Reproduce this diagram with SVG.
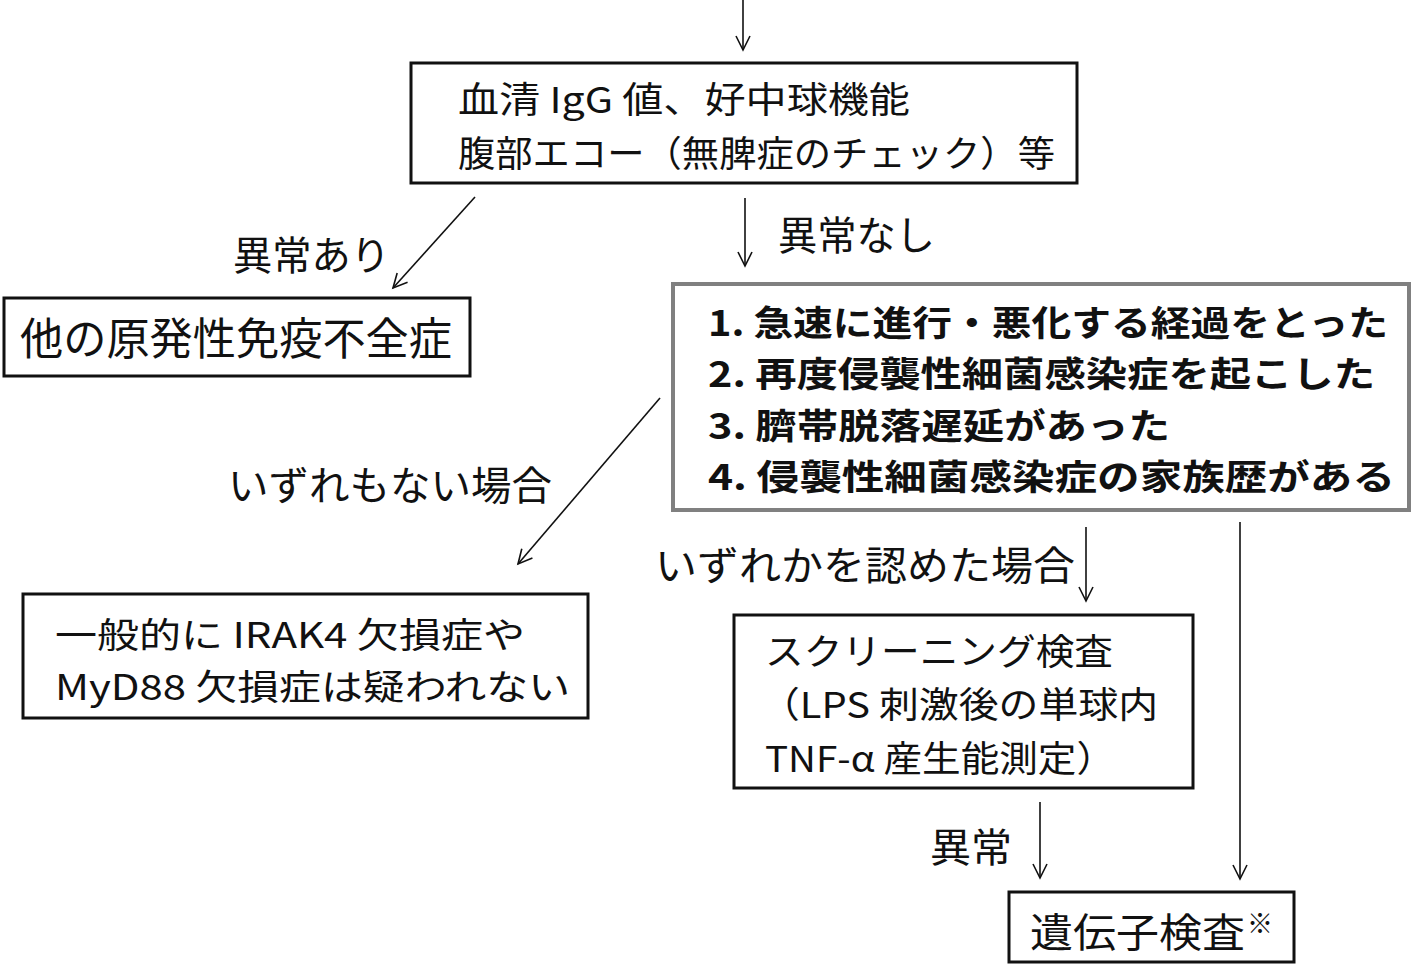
<svg xmlns="http://www.w3.org/2000/svg" width="1420" height="966" viewBox="0 0 1420 966">
<style>
.t{font-family:"Noto Sans CJK JP","Liberation Sans",sans-serif;font-size:40px;fill:#111}
.s{font-size:36px}
.s2{font-size:35px}
.b{font-weight:bold}
.box{fill:#fff;stroke:#111;stroke-width:3}
.gbox{fill:#fff;stroke:#808080;stroke-width:4}
.c{stroke:#111;stroke-width:1.6;fill:none;marker-end:url(#ah)}
</style>
<defs>
<marker id="ah" markerUnits="userSpaceOnUse" markerWidth="20" markerHeight="20" refX="15" refY="8" orient="auto">
<path d="M1,1 L15,8 L1,15" fill="none" stroke="#111" stroke-width="1.6"/>
</marker>
</defs>
<rect width="1420" height="966" fill="#fff"/>
<g id="connectors">
<line class="c" x1="743" y1="0" x2="743" y2="50"/>
<line class="c" x1="475" y1="197" x2="393" y2="288"/>
<line class="c" x1="745" y1="198" x2="745" y2="266"/>
<line class="c" x1="660" y1="398" x2="518" y2="564"/>
<line class="c" x1="1086" y1="527" x2="1086" y2="601"/>
<line class="c" x1="1240" y1="522" x2="1240" y2="879"/>
<line class="c" x1="1040" y1="802" x2="1040" y2="878"/>
<text class="t" x="233" y="270" textLength="157" lengthAdjust="spacingAndGlyphs">異常あり</text>
<text class="t" x="778" y="250" textLength="157" lengthAdjust="spacingAndGlyphs">異常なし</text>
<text class="t" x="228" y="500" textLength="324" lengthAdjust="spacingAndGlyphs">いずれもない場合</text>
<text class="t" x="655" y="580" textLength="420" lengthAdjust="spacingAndGlyphs">いずれかを認めた場合</text>
<text class="t" x="930" y="862" textLength="82" lengthAdjust="spacingAndGlyphs">異常</text>
</g>
<g id="node-tests">
<rect class="box" x="411" y="63" width="666" height="120"/>
<text class="t s" x="458" y="113" textLength="452" lengthAdjust="spacingAndGlyphs">血清 IgG 値、好中球機能</text>
<text class="t s" x="458" y="167" textLength="597" lengthAdjust="spacingAndGlyphs">腹部エコー（無脾症のチェック）等</text>
</g>
<g id="node-other-pid">
<rect class="box" x="4" y="298" width="466" height="78"/>
<text class="t" x="20" y="355" style="font-size:44px" textLength="432" lengthAdjust="spacingAndGlyphs">他の原発性免疫不全症</text>
</g>
<g id="node-criteria">
<rect class="gbox" x="673" y="284" width="736" height="226"/>
<text class="t b s2" x="708" y="336" textLength="680" lengthAdjust="spacingAndGlyphs">1. 急速に進行・悪化する経過をとった</text>
<text class="t b s2" x="708" y="387" textLength="667" lengthAdjust="spacingAndGlyphs">2. 再度侵襲性細菌感染症を起こした</text>
<text class="t b s2" x="708" y="439" textLength="462" lengthAdjust="spacingAndGlyphs">3. 臍帯脱落遅延があった</text>
<text class="t b s2" x="708" y="490" textLength="687" lengthAdjust="spacingAndGlyphs">4. 侵襲性細菌感染症の家族歴がある</text>
</g>
<g id="node-not-suspected">
<rect class="box" x="23" y="594" width="565" height="124"/>
<text class="t s2" x="55" y="648" textLength="470" lengthAdjust="spacingAndGlyphs">一般的に IRAK4 欠損症や</text>
<text class="t s2" x="55" y="700" textLength="515" lengthAdjust="spacingAndGlyphs">MyD88 欠損症は疑われない</text>
</g>
<g id="node-screening">
<rect class="box" x="734" y="615" width="459" height="173"/>
<text class="t s" x="765" y="665" textLength="348" lengthAdjust="spacingAndGlyphs">スクリーニング検査</text>
<text class="t s" x="760" y="718" textLength="398" lengthAdjust="spacingAndGlyphs">（LPS 刺激後の単球内</text>
<text class="t s" x="765" y="772" textLength="350" lengthAdjust="spacingAndGlyphs">TNF-α 産生能測定）</text>
</g>
<g id="node-genetic">
<rect class="box" x="1009" y="892" width="285" height="70"/>
<text class="t" x="1030" y="947" textLength="215" lengthAdjust="spacingAndGlyphs">遺伝子検査</text>
<text class="t" x="1247" y="933" style="font-size:26px">※</text>
</g>
</svg>
